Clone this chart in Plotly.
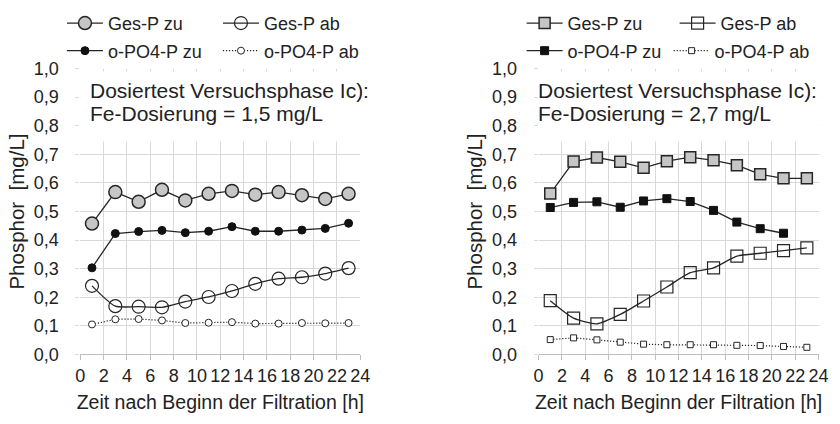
import plotly.graph_objects as go

# ---------------- data ----------------
hours = [1, 3, 5, 7, 9, 11, 13, 15, 17, 19, 21, 23]

# left chart: Fe-Dosierung = 1,5 mg/L
l_gesp_zu = [0.458, 0.568, 0.534, 0.576, 0.539, 0.562, 0.572, 0.559, 0.568, 0.557, 0.544, 0.562]
l_gesp_ab = [0.240, 0.169, 0.167, 0.165, 0.185, 0.201, 0.222, 0.247, 0.265, 0.270, 0.283, 0.302]
l_po4_zu = [0.303, 0.423, 0.430, 0.434, 0.426, 0.431, 0.447, 0.431, 0.431, 0.435, 0.441, 0.459]
l_po4_ab = [0.105, 0.123, 0.124, 0.119, 0.110, 0.111, 0.113, 0.108, 0.108, 0.110, 0.109, 0.110]

# right chart: Fe-Dosierung = 2,7 mg/L
r_gesp_zu = [0.563, 0.675, 0.689, 0.674, 0.653, 0.676, 0.690, 0.679, 0.662, 0.630, 0.616, 0.616]
r_gesp_ab = [0.188, 0.127, 0.107, 0.140, 0.187, 0.236, 0.286, 0.303, 0.344, 0.354, 0.363, 0.373]
r_po4_zu = [0.514, 0.532, 0.534, 0.515, 0.537, 0.545, 0.535, 0.504, 0.463, 0.440, 0.424, None]
r_po4_ab = [0.052, 0.058, 0.051, 0.043, 0.036, 0.034, 0.034, 0.034, 0.032, 0.031, 0.028, 0.025]

series_names = ["Ges-P zu", "Ges-P ab", "o-PO4-P zu", "o-PO4-P ab"]
titles_left = ["Dosiertest Versuchsphase Ic):", "Fe-Dosierung = 1,5 mg/L"]
titles_right = ["Dosiertest Versuchsphase Ic):", "Fe-Dosierung = 2,7 mg/L"]
x_title = "Zeit nach Beginn der Filtration [h]"
y_title = "Phosphor  [mg/L]"

# ---------------- style ----------------
FONT = "Liberation Sans, Arial, sans-serif"
TXT = "#222222"
LINE = "#262626"
GRID = "#d9d9d9"
AX = "#bfbfbf"
GRAYFILL = "#c6c6c6"
DOT = "1.2px,1.8px"
W, H = 840, 424

fig = go.Figure()


def add_series(xa, ya, sym, data, legends):
    gz, ga, pz, pa = data
    lg1, lg2 = legends
    fig.add_trace(go.Scatter(
        x=hours, y=gz, name=series_names[0], mode="lines+markers", xaxis=xa, yaxis=ya,
        legend=lg1, line=dict(color=LINE, width=1.3),
        marker=dict(symbol=sym, size=13 if sym == "circle" else 11, color=GRAYFILL,
                    line=dict(color=LINE, width=1.5))))
    fig.add_trace(go.Scatter(
        x=hours, y=ga, name=series_names[1], mode="lines+markers", xaxis=xa, yaxis=ya,
        legend=lg1, line=dict(color=LINE, width=1.3, shape="spline", smoothing=0.6),
        marker=dict(symbol=sym, size=13 if sym == "circle" else 12, color="rgba(255,255,255,0)",
                    line=dict(color=LINE, width=1.2))))
    fig.add_trace(go.Scatter(
        x=hours, y=pz, name=series_names[2], mode="lines+markers", xaxis=xa, yaxis=ya,
        legend=lg2, line=dict(color=LINE, width=1.3),
        marker=dict(symbol=sym, size=8, color="#111111", line=dict(color="#111111", width=1))))
    fig.add_trace(go.Scatter(
        x=hours, y=pa, name=series_names[3], mode="lines+markers", xaxis=xa, yaxis=ya,
        legend=lg2, line=dict(color=LINE, width=1.2, dash=DOT),
        marker=dict(symbol=sym, size=7 if sym == "circle" else 6, color="white",
                    line=dict(color=LINE, width=1))))


add_series("x", "y", "circle", (l_gesp_zu, l_gesp_ab, l_po4_zu, l_po4_ab), ("legend", "legend2"))
add_series("x2", "y2", "square", (r_gesp_zu, r_gesp_ab, r_po4_zu, r_po4_ab), ("legend3", "legend4"))

ydom = [1 - 361.5 / H, 1 - 61.5 / H]
xdom_l = [76.7 / W, 361.7 / W]
xdom_r = [543.3 / W, 828.3 / W]


def xaxis(dom, anchor):
    return dict(domain=dom, anchor=anchor, range=[0, 24], dtick=2, tick0=0,
                showgrid=True, gridcolor=GRID, gridwidth=1, zeroline=False,
                showline=True, linecolor=AX, linewidth=1,
                ticks="outside", ticklen=5, tickcolor=AX,
                tickfont=dict(family=FONT, size=18, color=TXT),
                title=dict(text=x_title, font=dict(family=FONT, size=19.5, color=TXT), standoff=10))


def yaxis(anchor):
    return dict(domain=ydom, anchor=anchor, range=[0, 1], dtick=0.1, tick0=0, tickformat=".1f",
                showgrid=True, gridcolor=GRID, gridwidth=1, zeroline=False, showline=False,
                ticks="outside", ticklen=4, tickcolor=GRID, ticklabelstandoff=13,
                tickfont=dict(family=FONT, size=18, color=TXT),
                title=dict(text=y_title, font=dict(family=FONT, size=20.5, color=TXT), standoff=3))


def legend(xpx, ypx, ew):
    return dict(orientation="h", x=xpx / W, y=1 - ypx / H, xanchor="left", yanchor="middle",
                entrywidth=ew, entrywidthmode="pixels", bgcolor="rgba(0,0,0,0)",
                font=dict(family=FONT, size=18, color=TXT), itemsizing="trace",
                itemwidth=36, traceorder="normal")


fig.update_layout(
    width=W, height=H, margin=dict(l=0, r=0, t=0, b=0),
    paper_bgcolor="white", plot_bgcolor="white",
    separators=", ",
    font=dict(family=FONT, color=TXT),
    xaxis=xaxis(xdom_l, "y"), yaxis=yaxis("x"),
    xaxis2=xaxis(xdom_r, "y2"), yaxis2=yaxis("x2"),
    legend=legend(58, 14, 105),
    legend2=legend(58, 43, 105),
    legend3=legend(526, 14, 102),
    legend4=legend(526, 43, 96),
)

# white boxes behind the annotation text (covering gridlines, below data)
for xr, yr in (("x", "y"), ("x2", "y2")):
    fig.add_shape(type="rect", xref=xr, yref=yr, x0=-0.3, x1=24.3, y0=0.745, y1=0.99,
                  fillcolor="white", line=dict(width=0), layer="between")

for lines, xpx in ((titles_left, 85), (titles_right, 541)):
    for txt, ypx in zip(lines, (85, 109)):
        fig.add_annotation(text=txt, xref="paper", yref="paper", x=xpx / W, y=1 - ypx / H,
                           xanchor="left", yanchor="middle", showarrow=False,
                           font=dict(family=FONT, size=21, color=TXT))

fig.write_html("out.html", config={"displayModeBar": False},
               post_script="document.body.style.margin='0';document.body.style.overflow='hidden';")
